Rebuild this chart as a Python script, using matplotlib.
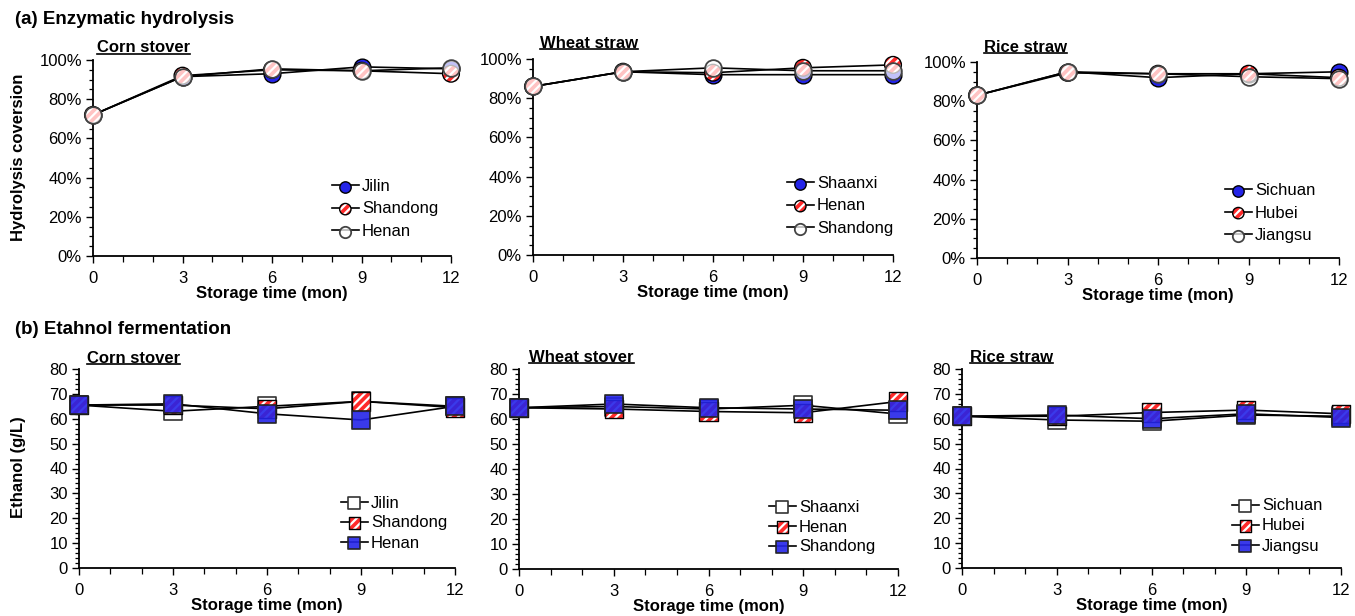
"""Storage time vs hydrolysis / ethanol, 2x3 panels."""

import matplotlib
matplotlib.use("Agg")
import matplotlib.pyplot as plt  # noqa: E402
from matplotlib.lines import Line2D  # noqa: E402
from matplotlib.legend_handler import HandlerTuple  # noqa: E402
from matplotlib.ticker import MultipleLocator, PercentFormatter  # noqa: E402

plt.rcParams["font.family"] = ["Liberation Sans", "DejaVu Sans"]
plt.rcParams["hatch.color"] = "white"
plt.rcParams["hatch.linewidth"] = 1.6

W, H = 1355, 616
months = [0, 3, 6, 9, 12]

# (a) hydrolysis conversion, %
hyd_titles = ["Corn stover", "Wheat straw", "Rice straw"]
hyd_labels = [["Jilin", "Shandong", "Henan"],
              ["Shaanxi", "Henan", "Shandong"],
              ["Sichuan", "Hubei", "Jiangsu"]]
hyd_corn = [[72, 91.5, 93, 96.5, 95.5],
            [72, 92, 95, 94.5, 93],
            [72, 91.5, 95.5, 94.5, 96]]
hyd_wheat = [[86, 93.5, 92, 92, 92],
             [86, 93.5, 93, 95.5, 97],
             [86, 93.5, 95.5, 94, 94]]
hyd_rice = [[83, 95, 92, 94, 95],
            [83, 94.5, 94, 94, 92],
            [83, 95, 94, 92.5, 91.5]]

# (b) ethanol, g/L
eth_titles = ["Corn stover", "Wheat stover", "Rice straw"]
eth_labels = [["Jilin", "Shandong", "Henan"],
              ["Shaanxi", "Henan", "Shandong"],
              ["Sichuan", "Hubei", "Jiangsu"]]
eth_corn = [[65.5, 63, 65, 67, 65],
            [65.5, 65.5, 64, 67, 64.5],
            [65.5, 66, 62, 59.5, 65]]
eth_wheat = [[64.5, 65, 64, 65.5, 62],
             [64.5, 64, 63, 62.5, 67],
             [64.5, 66, 64.5, 64, 63.5]]
eth_rice = [[61, 59.5, 59, 61.5, 61],
            [61, 61, 62.5, 63.5, 62],
            [61, 61.5, 60, 62, 60.5]]

# axes boxes in pixels: x0, x1, ytop, ybottom
top_boxes = [(93, 451, 60, 256), (533, 893, 59, 255), (977, 1339, 62, 258)]
bot_boxes = [(79, 455, 369, 568), (519, 898, 369, 569), (962, 1341, 369, 568)]
# legend anchor: handle left x, middle entry y (pixels)
top_leg = [(332, 209), (787, 206), (1225, 213)]
bot_leg = [(341, 523), (769, 527), (1232, 526)]
top_sub = [(97, 48), (540, 43), (984, 47)]
bot_sub = [(87, 358), (529, 357), (970, 357)]

BLUE = "#2424e8"
RED = "#ff2a2a"
FS = 12


def fx(px):
    return px / W


def fy(py):
    return 1 - py / H


def make_ax(fig, box):
    x0, x1, yt, yb = box
    ax = fig.add_axes([fx(x0), fy(yb), (x1 - x0) / W, (yb - yt) / H])
    for s in ("top", "right"):
        ax.spines[s].set_visible(False)
    for s in ("left", "bottom"):
        ax.spines[s].set_linewidth(1.3)
    ax.set_xlim(0, 12)
    ax.xaxis.set_major_locator(MultipleLocator(3))
    ax.xaxis.set_minor_locator(MultipleLocator(1))
    ax.tick_params(labelsize=FS, width=1.0, length=5, pad=3)
    ax.tick_params(axis="x", pad=6)
    ax.tick_params(which="minor", length=4, width=0.9)
    ax.tick_params(axis="y", which="minor", length=3)
    ax.set_xlabel("Storage time (mon)", fontsize=FS, fontweight="bold",
                  labelpad=0)
    return ax


def draw_series(ax, data, marker, size, styles):
    for vals in data:
        ax.plot(months, vals, color="black", lw=1.2, zorder=2, clip_on=False)
    handles = []
    for vals, st in zip(data, styles):
        arts = []
        if st == "blue":
            arts.append(ax.scatter(months, vals, s=size, marker=marker,
                                   facecolor=BLUE, edgecolor="black",
                                   linewidth=1.0, zorder=3, clip_on=False))
        elif st == "blue_top":
            arts.append(ax.scatter(months, vals, s=size, marker=marker,
                                   facecolor=BLUE, edgecolor="#222222",
                                   alpha=0.9, linewidth=1.3, zorder=3,
                                   clip_on=False))
        elif st == "red":
            arts.append(ax.scatter(months, vals, s=size, marker=marker,
                                   facecolor=RED, edgecolor="white",
                                   hatch="////", linewidth=0, zorder=3,
                                   clip_on=False))
            arts.append(ax.scatter(months, vals, s=size, marker=marker,
                                   facecolor="none", edgecolor="black",
                                   linewidth=1.0, zorder=3, clip_on=False))
        elif st == "white_top":
            arts.append(ax.scatter(months, vals, s=size, marker=marker,
                                   facecolor=(1, 1, 1, 0.72),
                                   edgecolor="#444444", linewidth=1.3,
                                   zorder=3, clip_on=False))
        else:  # plain white
            arts.append(ax.scatter(months, vals, s=size, marker=marker,
                                   facecolor="white", edgecolor="#333333",
                                   linewidth=1.2, zorder=3, clip_on=False))
        line = Line2D([], [], color="black", lw=1.2)
        handles.append(tuple([line] + arts))
    return handles


fig = plt.figure(figsize=(W / 100, H / 100), dpi=100)

fig.text(fx(15), fy(20), "(a) Enzymatic hydrolysis", fontsize=13.5,
         fontweight="bold", va="center", ha="left")
fig.text(fx(15), fy(329), "(b) Etahnol fermentation", fontsize=13.5,
         fontweight="bold", va="center", ha="left")
fig.text(fx(19), fy(157), "Hydrolysis coversion", fontsize=FS,
         fontweight="bold", rotation=90, va="center", ha="center")
fig.text(fx(19), fy(467), "Ethanol (g/L)", fontsize=FS,
         fontweight="bold", rotation=90, va="center", ha="center")

subtitles = []
tuple_handler = {tuple: HandlerTuple(ndivide=1, pad=0)}

hyd_data = [hyd_corn, hyd_wheat, hyd_rice]
for i in range(3):
    ax = make_ax(fig, top_boxes[i])
    ax.set_ylim(0, 100)
    ax.yaxis.set_major_locator(MultipleLocator(20))
    ax.yaxis.set_minor_locator(MultipleLocator(5))
    ax.yaxis.set_major_formatter(PercentFormatter(100, decimals=0))
    hs = draw_series(ax, hyd_data[i], "o", 145, ["blue", "red", "white_top"])
    lx, ly = top_leg[i]
    ax.legend(hs, hyd_labels[i], handler_map=tuple_handler,
              loc="center left", bbox_to_anchor=(fx(lx), fy(ly)),
              bbox_transform=fig.transFigure, frameon=False, fontsize=FS,
              borderpad=0, borderaxespad=0, handlelength=1.6,
              handletextpad=0.2, labelspacing=0.45, markerscale=0.68)
    sx, sy = top_sub[i]
    subtitles.append(fig.text(fx(sx), fy(sy), hyd_titles[i], fontsize=FS,
                              fontweight="bold", va="center", ha="left"))

eth_data = [eth_corn, eth_wheat, eth_rice]
for i in range(3):
    ax = make_ax(fig, bot_boxes[i])
    ax.set_ylim(0, 80)
    ax.yaxis.set_major_locator(MultipleLocator(10))
    ax.yaxis.set_minor_locator(MultipleLocator(2))
    hs = draw_series(ax, eth_data[i], "s", 175, ["white", "red", "blue_top"])
    lx, ly = bot_leg[i]
    ax.legend(hs, eth_labels[i], handler_map=tuple_handler,
              loc="center left", bbox_to_anchor=(fx(lx), fy(ly)),
              bbox_transform=fig.transFigure, frameon=False, fontsize=FS,
              borderpad=0, borderaxespad=0, handlelength=1.6,
              handletextpad=0.2, labelspacing=0.3, markerscale=0.62)
    sx, sy = bot_sub[i]
    subtitles.append(fig.text(fx(sx), fy(sy), eth_titles[i], fontsize=FS,
                              fontweight="bold", va="center", ha="left"))

# underline the panel subtitles
fig.canvas.draw()
renderer = fig.canvas.get_renderer()
for t in subtitles:
    bb = t.get_window_extent(renderer)
    yl = bb.y0 + 2
    fig.add_artist(Line2D([bb.x0 / W, bb.x1 / W], [yl / H, yl / H],
                          color="black", lw=1.2, transform=fig.transFigure))

fig.savefig("out.png", dpi=100)
plt.close(fig)
